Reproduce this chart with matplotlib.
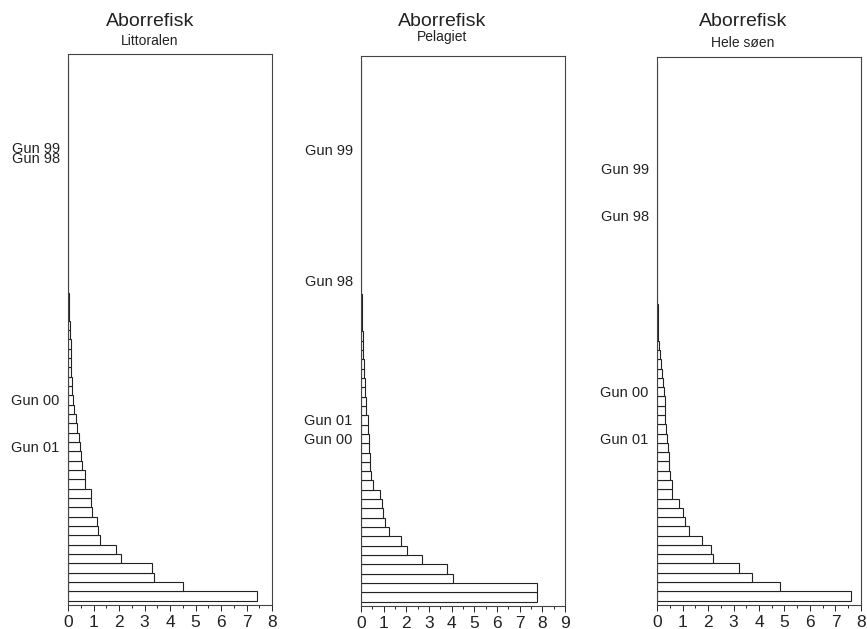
import matplotlib
matplotlib.use("Agg")
import matplotlib.pyplot as plt
from matplotlib.ticker import MultipleLocator

plt.rcParams['font.family'] = ['Liberation Sans', 'DejaVu Sans']

# values per rank, index 0 = bottom bar
littoral = [7.41, 4.52, 3.37, 3.28, 2.07, 1.88, 1.25, 1.19, 1.15, 0.95,
            0.91, 0.89, 0.68, 0.66, 0.56, 0.50, 0.46, 0.43, 0.35, 0.32,
            0.23, 0.21, 0.17, 0.14, 0.13, 0.12, 0.10, 0.10, 0.09, 0.08,
            0.05, 0.04, 0.02, 0, 0, 0, 0, 0, 0, 0,
            0, 0, 0, 0, 0, 0, 0, 0, 0, 0,
            0, 0, 0, 0, 0, 0, 0, 0]
pelagic = [7.78, 7.76, 4.04, 3.78, 2.70, 2.04, 1.75, 1.22, 1.04, 0.98,
           0.91, 0.84, 0.51, 0.46, 0.41, 0.40, 0.37, 0.35, 0.31, 0.29,
           0.24, 0.22, 0.19, 0.18, 0.15, 0.13, 0.10, 0.09, 0.07, 0.05,
           0.04, 0.03, 0.03, 0.02, 0.02, 0.01, 0.01, 0.01, 0, 0,
           0, 0, 0, 0, 0, 0, 0, 0, 0, 0,
           0, 0, 0, 0, 0, 0, 0, 0]
whole_lake = [7.62, 4.84, 3.72, 3.21, 2.19, 2.10, 1.75, 1.24, 1.10, 1.01,
              0.85, 0.59, 0.59, 0.51, 0.48, 0.46, 0.42, 0.39, 0.37, 0.33,
              0.31, 0.30, 0.28, 0.25, 0.18, 0.14, 0.10, 0.08, 0.05, 0.04,
              0.03, 0.02, 0, 0, 0, 0, 0, 0, 0, 0,
              0, 0, 0, 0, 0, 0, 0, 0, 0, 0,
              0, 0, 0, 0, 0, 0, 0, 0]

# ranks of the labelled years in each panel
littoral_marks = {"Gun 01": 16, "Gun 00": 21, "Gun 98": 47, "Gun 99": 48}
pelagic_marks = {"Gun 00": 17, "Gun 01": 19, "Gun 98": 34, "Gun 99": 48}
whole_marks = {"Gun 01": 17, "Gun 00": 22, "Gun 98": 41, "Gun 99": 46}

titles = ["Littoralen", "Pelagiet", "Hele søen"]
xmax = [8, 9, 8]

W, H = 867, 629
fig = plt.figure(figsize=(W / 100, H / 100), dpi=100)

# axes boxes in pixels: left, top, right, bottom
boxes = [(68, 54, 272, 605), (361, 56, 565, 606), (657, 57, 861, 605)]
title_x = [150, 442, 743]
sub_y = [41, 37, 43]

panels = [(littoral, littoral_marks), (pelagic, pelagic_marks), (whole_lake, whole_marks)]

for k, (vals, marks) in enumerate(panels):
    l, t, r, b = boxes[k]
    ax = fig.add_axes([l / W, 1 - b / H, (r - l) / W, (b - t) / H])
    pos = list(range(len(vals)))
    ax.barh(pos, vals, height=1.0, color='white', edgecolor='#222222', linewidth=0.8)
    ax.set_xlim(0, xmax[k])
    ax.set_ylim(-0.97, 58.05)
    ax.xaxis.set_major_locator(MultipleLocator(1))
    ax.xaxis.set_minor_locator(MultipleLocator(0.5))
    ax.tick_params(axis='x', which='major', length=4, width=0.7, labelsize=12.5, pad=3, colors='#222222')
    ax.tick_params(axis='x', which='minor', length=2.5, width=0.6)
    ax.set_yticks(list(marks.values()))
    ax.set_yticklabels(list(marks.keys()), fontsize=10.5, color='#222222')
    ax.tick_params(axis='y', length=0, pad=6)
    for sp in ax.spines.values():
        sp.set_linewidth(0.8)
        sp.set_color('#444444')
    fig.text(title_x[k] / W, 1 - 21 / H, "Aborrefisk", ha='center', va='center',
             fontsize=14, color='#222222')
    fig.text(title_x[k] / W, 1 - sub_y[k] / H, titles[k], ha='center', va='center',
             fontsize=10, color='#222222')

fig.savefig("out.png", dpi=100)
